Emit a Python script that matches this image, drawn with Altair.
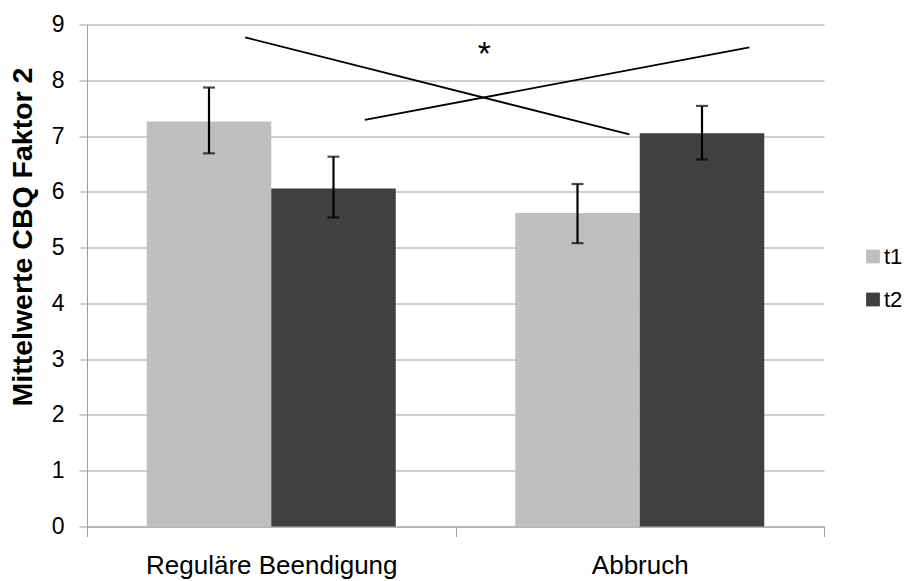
import altair as alt
import pandas as pd

# ---- data ----
categories = ["Reguläre Beendigung", "Abbruch"]
series = ["t1", "t2"]
t1_mean = [7.26, 5.62]
t2_mean = [6.06, 7.05]
t1_low = [6.69, 5.08]
t1_high = [7.87, 6.14]
t2_low = [5.54, 6.58]
t2_high = [6.63, 7.54]

# crossing interaction lines (x in group units 0..4, y in scale units)
line_id = ["a", "a", "b", "b"]
line_x = [0.858, 2.944, 1.508, 3.595]
line_y = [8.77, 7.03, 7.29, 8.59]
star_x = [2.157]
star_y = [8.61]
star_text = ["*"]

colors = ["#BFBFBF", "#404040"]

rows = []
for i, c in enumerate(categories):
    rows.append({"cat": c, "series": "t1", "mean": t1_mean[i], "lo": t1_low[i], "hi": t1_high[i]})
    rows.append({"cat": c, "series": "t2", "mean": t2_mean[i], "lo": t2_low[i], "hi": t2_high[i]})
bars_df = pd.DataFrame(rows)
lines_df = pd.DataFrame({"id": line_id, "x": line_x, "y": line_y})
star_df = pd.DataFrame({"x": star_x, "y": star_y, "t": star_text})

LEFT = 87
W, H = 737, 502
FONT = "Liberation Sans"

yscale = alt.Scale(domain=[0, 9], nice=False, zero=True)
xband = alt.X(
    "cat:N",
    sort=categories,
    scale=alt.Scale(paddingInner=0, paddingOuter=0),
    axis=alt.Axis(
        title=None,
        labelAngle=0,
        tickBand="extent",
        tickSize=10,
        tickColor="#A0A0A0",
        domainColor="#A0A0A0",
        labelFont=FONT,
        labelFontSize=26,
        labelColor="#000000",
        labelPadding=16,
        labelBaseline="top",
        labelLimit=0,
        grid=False,
    ),
)
xoff = alt.XOffset(
    "series:N",
    sort=series,
    scale=alt.Scale(paddingInner=0, paddingOuter=0.48),
)

bars = alt.Chart(bars_df).mark_bar(stroke=None).encode(
    x=xband,
    xOffset=xoff,
    y=alt.Y(
        "mean:Q",
        scale=yscale,
        axis=alt.Axis(
            title="Mittelwerte CBQ Faktor 2",
            values=list(range(0, 10)),
            format="d",
            grid=True,
            gridColor="#A0A0A0",
            gridWidth=1,
            tickColor="#A0A0A0",
            tickSize=8,
            domainColor="#A0A0A0",
            labelFont=FONT,
            labelFontSize=23,
            labelColor="#000000",
            labelPadding=15,
            titleFont=FONT,
            titleFontSize=28.5,
            titleFontWeight="bold",
            titleColor="#000000",
            titleX=-65,
            titleY=212,
            titleAngle=270,
            titleAlign="center",
            titleBaseline="middle",
        ),
    ),
    color=alt.Color(
        "series:N",
        sort=series,
        scale=alt.Scale(domain=series, range=colors),
        legend=alt.Legend(
            title=None,
            orient="none",
            legendX=775,
            legendY=221,
            symbolType="square",
            symbolSize=190,
            symbolStrokeWidth=0,
            labelFont=FONT,
            labelFontSize=22,
            labelColor="#000000",
            labelOffset=0,
            rowPadding=21,
        ),
    ),
)

err = alt.Chart(bars_df).mark_rule(color="#000000", strokeWidth=2.2).encode(
    x=alt.X("cat:N", sort=categories),
    xOffset=xoff,
    y=alt.Y("lo:Q", scale=yscale),
    y2="hi:Q",
)
cap_lo = alt.Chart(bars_df).mark_tick(color="#000000", thickness=2.2, size=12, orient="horizontal").encode(
    x=alt.X("cat:N", sort=categories),
    xOffset=xoff,
    y=alt.Y("lo:Q", scale=yscale),
)
cap_hi = alt.Chart(bars_df).mark_tick(color="#000000", thickness=2.2, size=12, orient="horizontal").encode(
    x=alt.X("cat:N", sort=categories),
    xOffset=xoff,
    y=alt.Y("hi:Q", scale=yscale),
)

xq = alt.Scale(domain=[0, 4], nice=False, zero=False)
lines = alt.Chart(lines_df).mark_line(color="#000000", strokeWidth=1.8).encode(
    x=alt.X("x:Q", scale=xq, axis=None),
    y=alt.Y("y:Q", scale=yscale),
    detail="id:N",
)
star = alt.Chart(star_df).mark_text(
    font=FONT, fontSize=34, color="#000000", baseline="alphabetic", dy=19
).encode(
    x=alt.X("x:Q", scale=xq, axis=None),
    y=alt.Y("y:Q", scale=yscale),
    text="t:N",
)

band_layer = alt.layer(bars, err, cap_lo, cap_hi)
q_layer = alt.layer(lines, star)

chart = (
    alt.layer(band_layer, q_layer)
    .resolve_scale(x="independent")
    .properties(
        width=W,
        height=H,
        autosize=alt.AutoSizeParams(type="none"),
        padding={"left": LEFT, "top": 24.5, "right": 910 - LEFT - W, "bottom": 54.5},
        background="#FFFFFF",
    )
    .configure_view(stroke=None)
)

chart.save("out.html", embed_options={"renderer": "svg", "actions": False})
